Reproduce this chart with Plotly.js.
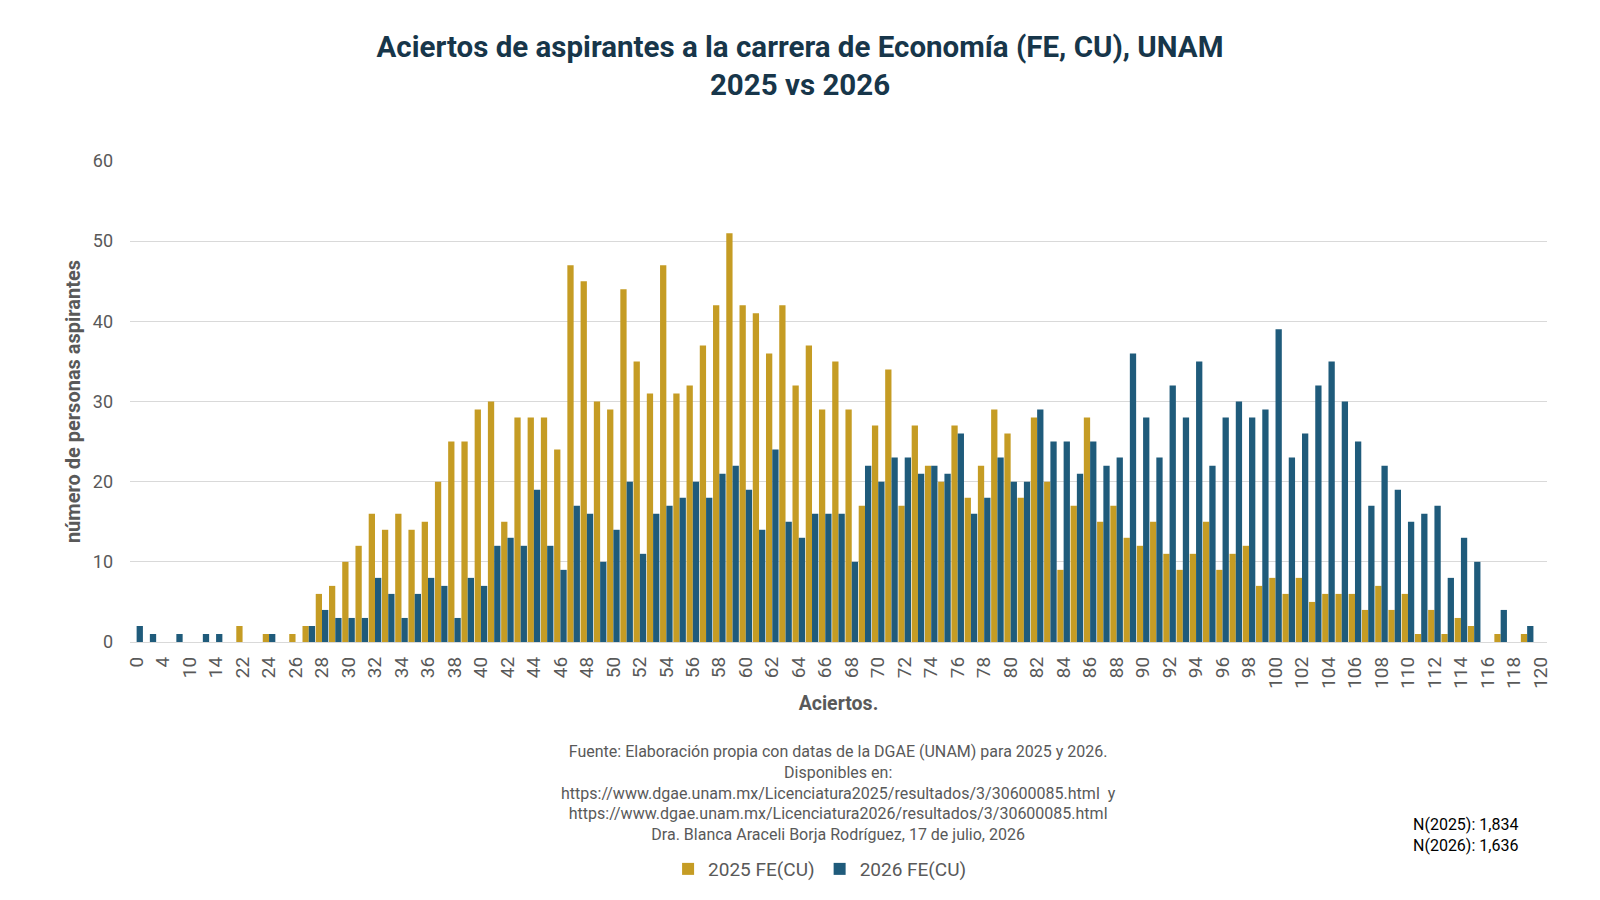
<!DOCTYPE html>
<html>
<head>
<meta charset="utf-8">
<script src="https://cdn.plot.ly/plotly-3.0.1.min.js"></script>
<style>
  html, body { margin: 0; padding: 0; background: #ffffff; }
  #chart { width: 1600px; height: 900px; }
</style>
</head>
<body>
<div id="chart"></div>
<script>
// ── Data: número de aspirantes por aciertos ─────────────────────

const aciertos = [
  '0', '2', '4', '8', '10', '12', '14', '18',
  '22', '23', '24', '25', '26', '27', '28', '29', '30', '31',
  '32', '33', '34', '35', '36', '37', '38', '39', '40', '41',
  '42', '43', '44', '45', '46', '47', '48', '49', '50', '51',
  '52', '53', '54', '55', '56', '57', '58', '59', '60', '61',
  '62', '63', '64', '65', '66', '67', '68', '69', '70', '71',
  '72', '73', '74', '75', '76', '77', '78', '79', '80', '81',
  '82', '83', '84', '85', '86', '87', '88', '89', '90', '91',
  '92', '93', '94', '95', '96', '97', '98', '99', '100', '101',
  '102', '103', '104', '105', '106', '107', '108', '109', '110', '111',
  '112', '113', '114', '115', '116', '117', '118', '119', '120',
];

const fe2025 = [
  0, 0, 0, 0, 0, 0, 0, 0,
  2, 0, 1, 0, 1, 2, 6, 7, 10, 12,
  16, 14, 16, 14, 15, 20, 25, 25, 29, 30,
  15, 28, 28, 28, 24, 47, 45, 30, 29, 44,
  35, 31, 47, 31, 32, 37, 42, 51, 42, 41,
  36, 42, 32, 37, 29, 35, 29, 17, 27, 34,
  17, 27, 22, 20, 27, 18, 22, 29, 26, 18,
  28, 20, 9, 17, 28, 15, 17, 13, 12, 15,
  11, 9, 11, 15, 9, 11, 12, 7, 8, 6,
  8, 5, 6, 6, 6, 4, 7, 4, 6, 1,
  4, 1, 3, 2, 0, 1, 0, 1, 0,
];

const fe2026 = [
  2, 1, 0, 1, 0, 1, 1, 0,
  0, 0, 1, 0, 0, 2, 4, 3, 3, 3,
  8, 6, 3, 6, 8, 7, 3, 8, 7, 12,
  13, 12, 19, 12, 9, 17, 16, 10, 14, 20,
  11, 16, 17, 18, 20, 18, 21, 22, 19, 14,
  24, 15, 13, 16, 16, 16, 10, 22, 20, 23,
  23, 21, 22, 21, 26, 16, 18, 23, 20, 20,
  29, 25, 25, 21, 25, 22, 23, 36, 28, 23,
  32, 28, 35, 22, 28, 30, 28, 29, 39, 23,
  26, 32, 35, 30, 25, 17, 22, 19, 15, 16,
  17, 8, 13, 10, 0, 4, 0, 2, 0,
];

const seriesNames = ['2025 FE(CU)', '2026 FE(CU)'];
const totals = ['N(2025): 1,834', 'N(2026): 1,636'];

const fuente = [
  'Fuente: Elaboración propia con datas de la DGAE (UNAM) para 2025 y 2026.',
  'Disponibles en:',
  'https://www.dgae.unam.mx/Licenciatura2025/resultados/3/30600085.html  y',
  'https://www.dgae.unam.mx/Licenciatura2026/resultados/3/30600085.html',
  'Dra. Blanca Araceli Borja Rodríguez, 17 de julio, 2026',
];

// ── Theme ────────────────────────────────────────────────────────

const GOLD = '#c59c24';
const BLUE = '#1f5b7b';
const GREY = '#595959';
const TITLE = '#17364a';
const FONT = 'Roboto, "Open Sans", sans-serif';

// labels every second category, as in the original
const shownTicks = aciertos.filter((a, i) => i % 2 === 0);

const traces = [
  {
    x: aciertos, y: fe2025,
    type: 'bar', name: seriesNames[0],
    marker: { color: GOLD },
  },
  {
    x: aciertos, y: fe2026,
    type: 'bar', name: seriesNames[1],
    marker: { color: BLUE },
  },
];

const layout = {
  width: 1600,
  height: 900,
  paper_bgcolor: '#ffffff',
  plot_bgcolor: '#ffffff',
  font: { family: FONT, color: GREY, size: 16 },
  margin: { l: 130, r: 53, t: 161, b: 253 },
  barmode: 'group',
  bargap: 0.05,
  bargroupgap: 0,
  title: {
    text: '<b>Aciertos de aspirantes a la carrera de Economía (FE, CU), UNAM<br>2025 vs 2026</b>',
    font: { family: FONT, size: 29.5, color: TITLE },
    x: 0.5, xref: 'container', xanchor: 'center',
    y: 0.937, yref: 'container', yanchor: 'middle',
  },
  xaxis: {
    type: 'category',
    tickmode: 'array',
    tickvals: shownTicks,
    ticktext: shownTicks,
    tickangle: -90,
    tickfont: { size: 19, color: GREY },
    ticklabelstandoff: 10,
    showgrid: false,
    showline: false,
    ticks: '',
    title: {
      text: '<b>Aciertos.</b>',
      font: { size: 19.5, color: GREY },
      standoff: 8,
    },
  },
  yaxis: {
    range: [0, 60],
    dtick: 10,
    tickfont: { size: 18, color: GREY },
    gridcolor: '#d9d9d9',
    gridwidth: 1,
    zeroline: true,
    zerolinecolor: '#d9d9d9',
    zerolinewidth: 1,
    showline: false,
    ticks: '',
    ticklabelstandoff: 16,
    title: {
      text: '<b>número de personas aspirantes</b>',
      font: { size: 20, color: GREY },
      standoff: 6,
    },
  },
  showlegend: true,
  legend: {
    orientation: 'h',
    x: 0.487, xanchor: 'center',
    y: -0.472, yanchor: 'middle',
    font: { size: 19, color: GREY },
    itemwidth: 30,
    traceorder: 'normal',
  },
  annotations: [
    {
      text: fuente.join('<br>'),
      xref: 'paper', yref: 'paper',
      x: 0.5, y: -0.313,
      xanchor: 'center', yanchor: 'middle',
      showarrow: false,
      align: 'center',
      font: { size: 16, color: GREY },
    },
    {
      text: totals.join('<br>'),
      xref: 'paper', yref: 'paper',
      x: 0.904, y: -0.402,
      xanchor: 'left', yanchor: 'middle',
      showarrow: false,
      align: 'left',
      font: { size: 16, color: '#000000' },
    },
  ],
};

Plotly.newPlot('chart', traces, layout, { displayModeBar: false, responsive: false });
</script>
</body>
</html>
